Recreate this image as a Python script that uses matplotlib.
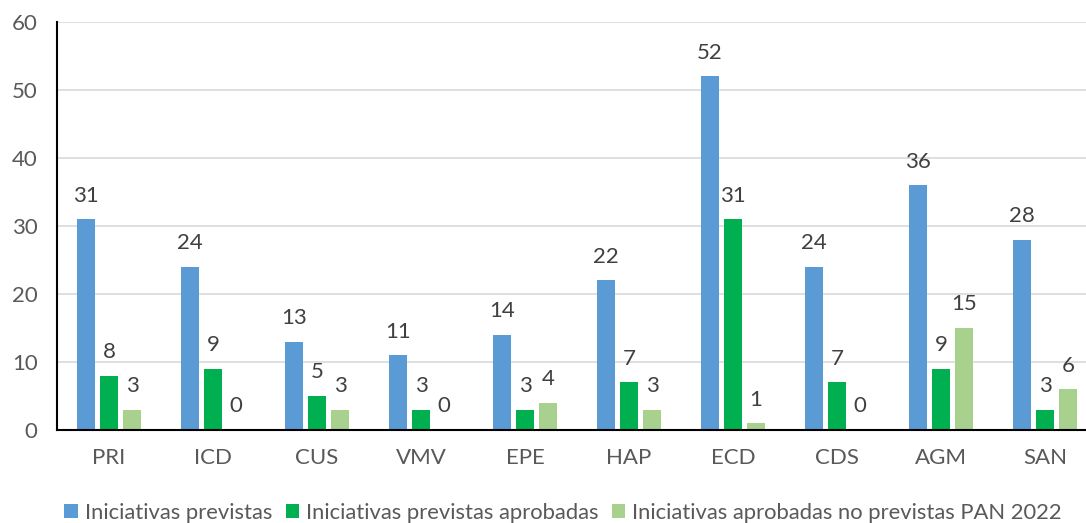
import numpy as np
import matplotlib
matplotlib.use('Agg')
import matplotlib.pyplot as plt


categories = ['PRI', 'ICD', 'CUS', 'VMV', 'EPE', 'HAP', 'ECD', 'CDS', 'AGM', 'SAN']
previstas = [31, 24, 13, 11, 14, 22, 52, 24, 36, 28]
previstas_aprobadas = [8, 9, 5, 3, 3, 7, 31, 7, 9, 3]
no_previstas = [3, 0, 3, 0, 4, 3, 1, 0, 15, 6]
series_names = ['Iniciativas previstas',
                'Iniciativas previstas aprobadas',
                'Iniciativas aprobadas no previstas PAN 2022']
colors = ['#5B9BD5', '#00B050', '#A9D18E']

plt.rcParams['font.family'] = ['Lato', 'DejaVu Sans']

fig = plt.figure(figsize=(10.86, 5.23), dpi=100)
ax = fig.add_axes([57 / 1086, 1 - 430 / 523, 1040 / 1086, 408 / 523])

x = np.arange(len(categories))
width = 0.175
offsets = [-0.222, 0, 0.222]
for vals, off, col, name in zip([previstas, previstas_aprobadas, no_previstas],
                                offsets, colors, series_names):
    bars = ax.bar(x + off, vals, width, color=col, label=name, zorder=3)
    for b, v in zip(bars, vals):
        ax.annotate(str(v), (b.get_x() + b.get_width() / 2, v),
                    xytext=(0, 17), textcoords='offset points',
                    ha='center', va='center', fontsize=16, color='#404040')

ax.set_xlim(-0.5, len(categories) - 0.5)
ax.set_ylim(0, 60)
ax.set_yticks(range(0, 61, 10))
ax.set_xticks(x)
ax.set_xticklabels(categories)
ax.tick_params(axis='both', length=0, labelsize=16, labelcolor='#595959')
ax.tick_params(axis='y', pad=14)
ax.tick_params(axis='x', pad=13)
ax.yaxis.grid(True, color='#d9d9d9', linewidth=1.2, zorder=0)
ax.set_axisbelow(True)
for s in ['top', 'right']:
    ax.spines[s].set_visible(False)
for s in ['left', 'bottom']:
    ax.spines[s].set_linewidth(1.5)
    ax.spines[s].set_color('black')
    ax.spines[s].set_zorder(4)

fig.legend(loc='center', bbox_to_anchor=(563 / 1086, 1 - 513 / 523), ncol=3,
           frameon=False, fontsize=15.8, handlelength=0.62, handleheight=0.62,
           handletextpad=0.3, columnspacing=0.62, labelcolor='#595959',
           borderaxespad=0)

fig.savefig('out.png', dpi=100)
